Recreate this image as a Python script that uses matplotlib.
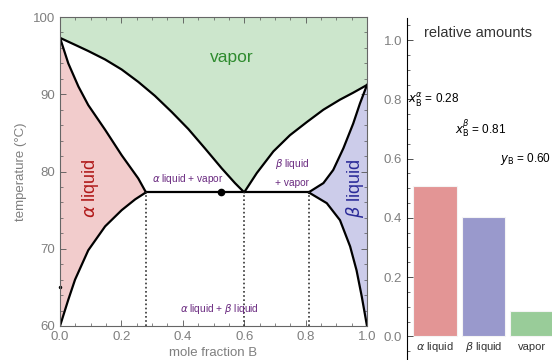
"""Binary phase diagram with relative amounts bar chart."""

import matplotlib
matplotlib.use("Agg")
import matplotlib.pyplot as plt
from matplotlib.ticker import MultipleLocator, FormatStrFormatter

plt.rcParams["font.family"] = ["Liberation Sans", "DejaVu Sans"]
plt.rcParams["mathtext.fontset"] = "dejavusans"

# --- data ---
# alpha liquidus (top of alpha-liquid region)
liq_a_x = [0.0, 0.027, 0.06, 0.092, 0.147, 0.201, 0.255, 0.28]
liq_a_t = [97.3, 94.0, 91.0, 88.6, 85.4, 82.1, 79.1, 77.3]
# alpha solubility curve (bottom of alpha-liquid region)
sol_a_x = [0.0, 0.027, 0.049, 0.092, 0.147, 0.201, 0.245, 0.28]
sol_a_t = [60.0, 63.4, 66.0, 69.8, 72.9, 75.0, 76.4, 77.3]
# vapor boundary (dew curve)
dew_x = [0.0, 0.049, 0.092, 0.147, 0.201, 0.255, 0.309, 0.364, 0.418,
         0.472, 0.527, 0.57, 0.6, 0.641, 0.695, 0.749, 0.804, 0.858,
         0.912, 0.955, 1.0]
dew_t = [97.3, 96.4, 95.6, 94.5, 93.2, 91.6, 89.8, 87.7, 85.5,
         83.0, 80.4, 78.5, 77.3, 79.8, 82.6, 84.7, 86.4, 88.0,
         89.3, 90.2, 91.2]
# beta liquidus
liq_b_x = [1.0, 0.977, 0.955, 0.923, 0.89, 0.858, 0.81]
liq_b_t = [91.2, 88.8, 86.2, 83.0, 80.2, 78.5, 77.3]
# beta solubility curve
sol_b_x = [0.81, 0.869, 0.912, 0.945, 0.966, 0.983, 1.0]
sol_b_t = [77.3, 75.9, 73.7, 70.3, 67.2, 63.8, 60.0]

t_three = 77.3
comp_a, comp_b, comp_v = 0.28, 0.81, 0.60
overall_x = 0.524

phases = [r"$\alpha$ liquid", r"$\beta$ liquid", "vapor"]
amounts = [0.507, 0.402, 0.084]

green_fill = "#cce6cc"
red_fill = "#f2cccc"
blue_fill = "#ccccea"
gray = "#7f7f7f"

fig = plt.figure(figsize=(5.52, 3.6), dpi=100)

# ---------------- phase diagram ----------------
ax1 = fig.add_axes([60 / 552, 34 / 360, 307 / 552, 309 / 360])
ax1.set_xlim(0, 1)
ax1.set_ylim(60, 100)

ax1.fill_between(dew_x, dew_t, 100, color=green_fill, lw=0)
ax1.fill(sol_a_x + liq_a_x[::-1], sol_a_t + liq_a_t[::-1], color=red_fill, lw=0)
ax1.fill(sol_b_x + liq_b_x, sol_b_t + liq_b_t, color=blue_fill, lw=0)

for xs, ts in [(liq_a_x, liq_a_t), (sol_a_x, sol_a_t), (dew_x, dew_t),
               (liq_b_x, liq_b_t), (sol_b_x, sol_b_t)]:
    ax1.plot(xs, ts, color="black", lw=1.6, solid_joinstyle="round")
ax1.plot([comp_a, comp_b], [t_three, t_three], color="black", lw=1.6)
for c in (comp_a, comp_v, comp_b):
    ax1.plot([c, c], [60, t_three], color="#333333", lw=1.2, ls=(0, (1, 1.5)))
ax1.plot(overall_x, t_three, "o", color="black", ms=4.5)
ax1.plot(0, 65, "o", color="black", ms=1.5, clip_on=False)

ax1.text(0.56, 94.8, "vapor", color="#2e8b2e", fontsize=12.5,
         ha="center", va="center")
ax1.text(0.1, 77.8, r"$\alpha$ liquid", color="#b01818", fontsize=13,
         rotation=90, ha="center", va="center")
ax1.text(0.96, 77.8, r"$\beta$ liquid", color="#2b2b99", fontsize=13,
         rotation=90, ha="center", va="center")
purple = "#6a2a80"
ax1.text(0.415, 79.0, r"$\alpha$ liquid + vapor", color=purple, fontsize=7.3,
         ha="center", va="center")
ax1.text(0.755, 81.0, r"$\beta$ liquid", color=purple, fontsize=7.3,
         ha="center", va="center")
ax1.text(0.755, 78.5, "+ vapor", color=purple, fontsize=7.3,
         ha="center", va="center")
ax1.text(0.52, 62.2, r"$\alpha$ liquid + $\beta$ liquid", color=purple,
         fontsize=7.3, ha="center", va="center")

ax1.xaxis.set_major_locator(MultipleLocator(0.2))
ax1.xaxis.set_minor_locator(MultipleLocator(0.05))
ax1.yaxis.set_major_locator(MultipleLocator(10))
ax1.yaxis.set_minor_locator(MultipleLocator(2))
ax1.xaxis.set_major_formatter(FormatStrFormatter("%.1f"))
ax1.tick_params(which="both", direction="in", top=True, right=True,
                colors="#555555", labelcolor=gray, labelsize=9.5)
ax1.tick_params(which="major", length=4, width=0.6)
ax1.tick_params(which="minor", length=2, width=0.5)
for s in ax1.spines.values():
    s.set_color("#666666")
    s.set_linewidth(0.8)
ax1.set_xlabel("mole fraction B", color=gray, fontsize=9.5, labelpad=3)
ax1.set_ylabel("temperature (°C)", color=gray, fontsize=9.5, labelpad=4)

# ---------------- relative amounts ----------------
ax2 = fig.add_axes([407 / 552, 0.0, 145 / 552, 342 / 360])
bar_x = [1, 2, 3]
ax2.bar(bar_x, amounts, width=0.9,
        color=["#e39595", "#9999cc", "#99cc99"], edgecolor="#f4f4f4", lw=0.8)
ax2.set_xlim(0.42, 3.41)
ax2.set_ylim(-0.08, 1.075)
ax2.set_xticks([])
for bx, name in zip(bar_x, phases):
    ax2.text(bx, -0.037, name, fontsize=8, color="#333333",
             ha="center", va="center")
ax2.yaxis.set_major_locator(MultipleLocator(0.2))
ax2.yaxis.set_minor_locator(MultipleLocator(0.05))
ax2.yaxis.set_major_formatter(FormatStrFormatter("%.1f"))
ax2.tick_params(axis="y", which="both", direction="in", colors="#333333",
                labelcolor=gray, labelsize=9.5)
ax2.tick_params(axis="y", which="major", length=4, width=0.6)
ax2.tick_params(axis="y", which="minor", length=2, width=0.5)
for side in ("top", "right", "bottom"):
    ax2.spines[side].set_visible(False)
ax2.spines["left"].set_color("black")
ax2.patch.set_alpha(0)

ax2.text(0.77, 1.024, "relative amounts", fontsize=10.5, color="#333333",
         va="center")
ax2.text(0.44, 0.797, r"$x_\mathrm{B}^\alpha$ = 0.28", fontsize=8.5, va="center")
ax2.text(1.41, 0.70, r"$x_\mathrm{B}^\beta$ = 0.81", fontsize=8.5, va="center")
ax2.text(2.34, 0.60, r"$y_\mathrm{B}$ = 0.60", fontsize=8.5, va="center")

fig.savefig("out.png", dpi=100)
